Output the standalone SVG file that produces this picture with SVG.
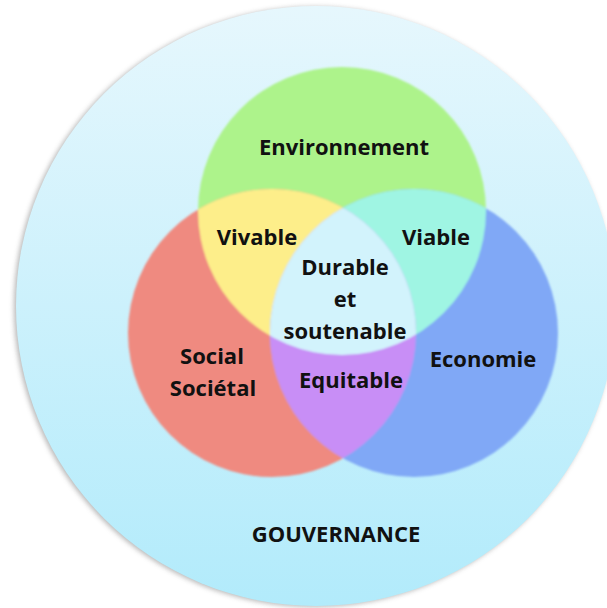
<svg xmlns="http://www.w3.org/2000/svg" width="607" height="608" viewBox="0 0 607 608">
<defs>
<linearGradient id="bg" x1="0" y1="0" x2="0" y2="1">
<stop offset="0" stop-color="#e6f7fd"/>
<stop offset="1" stop-color="#b2ebfb"/>
</linearGradient>
<filter id="sh" x="-10%" y="-10%" width="120%" height="120%"><feGaussianBlur stdDeviation="2.5"/></filter>
<filter id="soft" x="-5%" y="-5%" width="110%" height="110%"><feGaussianBlur stdDeviation="0.8"/></filter>
<clipPath id="cG"><circle cx="342" cy="211" r="144"/></clipPath>
<clipPath id="cR"><circle cx="272" cy="333" r="144"/></clipPath>
<clipPath id="cB"><circle cx="414" cy="333" r="144"/></clipPath>
</defs>
<style>
text{font-family:"Open Sans","DejaVu Sans",sans-serif;font-weight:700;font-size:22px;fill:#111;text-anchor:middle}
</style>
<rect width="607" height="608" fill="#ffffff"/>
<g id="gouvernance">
<circle cx="314" cy="307" r="300" fill="#9a9a9a" filter="url(#sh)" opacity="0.7"/>
<circle cx="316" cy="306" r="300" fill="url(#bg)"/>
<text x="336" y="542">GOUVERNANCE</text>
</g>
<g id="circles" filter="url(#soft)">
<g id="environnement"><circle cx="342" cy="211" r="144" fill="#adf38b"/></g>
<g id="social"><circle cx="272" cy="333" r="144" fill="#ef8a80"/></g>
<g id="economie"><circle cx="414" cy="333" r="144" fill="#80a8f6"/></g>
<g id="vivable" clip-path="url(#cG)"><circle cx="272" cy="333" r="144" fill="#fdee8a"/></g>
<g id="viable" clip-path="url(#cG)"><circle cx="414" cy="333" r="144" fill="#9ff5e3"/></g>
<g id="equitable" clip-path="url(#cR)"><circle cx="414" cy="333" r="144" fill="#c88ef6"/></g>
<g id="durable" clip-path="url(#cG)"><g clip-path="url(#cR)"><circle cx="414" cy="333" r="144" fill="#d2f3fc"/></g></g>
</g>
<g id="labels">
<text x="344" y="155">Environnement</text>
<text x="257" y="245">Vivable</text>
<text x="436" y="245">Viable</text>
<text x="345" y="275">Durable</text>
<text x="345" y="307">et</text>
<text x="345" y="339">soutenable</text>
<text x="212" y="364">Social</text>
<text x="213" y="396">Sociétal</text>
<text x="483" y="367">Economie</text>
<text x="351" y="388">Equitable</text>
</g>
</svg>
